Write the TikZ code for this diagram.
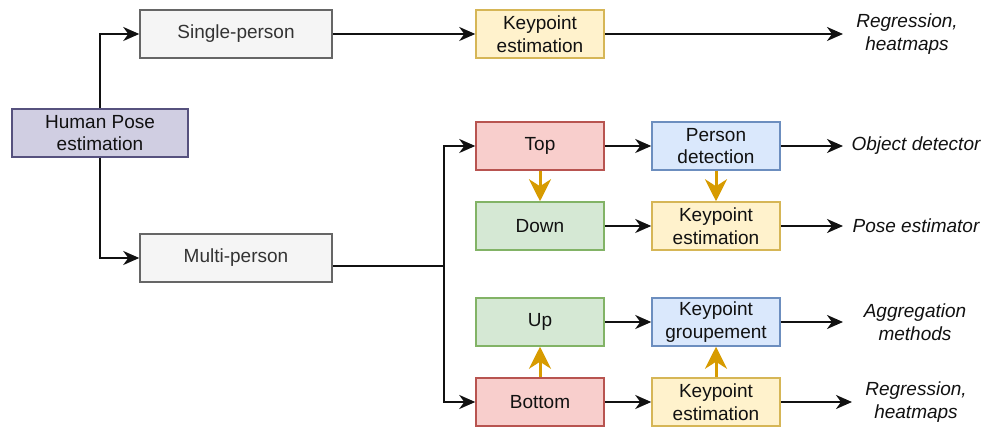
\documentclass[tikz,border=0pt]{standalone}
\usepackage{fontspec}
\setmainfont{Liberation Sans}
\usetikzlibrary{arrows.meta}

\definecolor{purpleFill}{HTML}{D0CEE2}
\definecolor{purpleLine}{HTML}{56517E}
\definecolor{grayFill}{HTML}{F5F5F5}
\definecolor{grayLine}{HTML}{666666}
\definecolor{grayText}{HTML}{333333}
\definecolor{yellowFill}{HTML}{FFF2CC}
\definecolor{yellowLine}{HTML}{D6B656}
\definecolor{redFill}{HTML}{F8CECC}
\definecolor{redLine}{HTML}{B85450}
\definecolor{blueFill}{HTML}{DAE8FC}
\definecolor{blueLine}{HTML}{6C8EBF}
\definecolor{greenFill}{HTML}{D5E8D4}
\definecolor{greenLine}{HTML}{82B366}
\definecolor{orangeArrow}{HTML}{D79B00}
\definecolor{ink}{HTML}{111111}

\tikzset{
  box/.style={draw, line width=1.5pt, minimum height=48pt, minimum width=128pt,
    inner sep=0pt, align=center, text=ink,
    font=\fontsize{19}{22.5}\selectfont},
  purplebox/.style={box, fill=purpleFill, draw=purpleLine, minimum width=176pt},
  graybox/.style={box, fill=grayFill, draw=grayLine, text=grayText, minimum width=192pt},
  yellowbox/.style={box, fill=yellowFill, draw=yellowLine},
  redbox/.style={box, fill=redFill, draw=redLine},
  bluebox/.style={box, fill=blueFill, draw=blueLine},
  greenbox/.style={box, fill=greenFill, draw=greenLine},
  result/.style={align=center, inner sep=0pt, text=ink,
    font=\fontsize{19}{22.5}\selectfont\itshape},
  arr/.style={draw=ink, line width=2pt,
    -{Stealth[length=16pt, width=14pt, inset=5pt]}},
  plain/.style={draw=ink, line width=2pt},
  orarr/.style={draw=orangeArrow, line width=3pt,
    -{Stealth[length=22pt, width=22pt, inset=7pt]}},
}

\begin{document}
\begin{tikzpicture}[x=1pt, y=-1pt]
  \useasboundingbox (0,0) rectangle (983,427);

  % boxes
  \node[purplebox] (hp) at (100,133) {Human Pose\\estimation};
  \node[graybox] (sp) at (236,34) {Single-person};
  \node[graybox] (mp) at (236,258) {Multi-person};
  \node[yellowbox] (ke1) at (540,34) {Keypoint\\estimation};

  \node[redbox] (top) at (540,146) {Top};
  \node[greenbox] (down) at (540,226) {Down};
  \node[greenbox] (up) at (540,322) {Up};
  \node[redbox] (bottom) at (540,402) {Bottom};

  \node[bluebox] (pd) at (716,146) {Person\\detection};
  \node[yellowbox] (ke2) at (716,226) {Keypoint\\estimation};
  \node[bluebox] (kg) at (716,322) {Keypoint\\groupement};
  \node[yellowbox] (ke3) at (716,402) {Keypoint\\estimation};

  % outcomes
  \node[result] (r1) at (907,34) {Regression,\\heatmaps};
  \node[result] (r2) at (916,146) {Object detector};
  \node[result] (r3) at (916,226) {Pose estimator};
  \node[result] (r4) at (915,322) {Aggregation\\methods};
  \node[result] (r5) at (916,402) {Regression,\\heatmaps};

  % branch point of the multi-person line and arrow ends before the outcomes
  \coordinate (j) at (444,266);
  \coordinate (e1) at (843,34);
  \coordinate (e2) at (843,146);
  \coordinate (e3) at (843,226);
  \coordinate (e4) at (843,322);
  \coordinate (e5) at (852,402);

  % connectors
  \draw[arr] (hp.north) |- (sp.west);
  \draw[arr] (hp.south) |- (mp.west);
  \draw[arr] (sp.east) -- (ke1.west);
  \draw[arr] (ke1.east) -- (e1);

  \draw[plain] ([yshift=-8pt]mp.east) -- (j);
  \draw[arr] (j) |- (top.west);
  \draw[arr] (j) |- (bottom.west);

  \draw[arr] (top) -- (pd);
  \draw[arr] (down) -- (ke2);
  \draw[arr] (up) -- (kg);
  \draw[arr] (bottom) -- (ke3);

  \draw[arr] (pd.east) -- (e2);
  \draw[arr] (ke2.east) -- (e3);
  \draw[arr] (kg.east) -- (e4);
  \draw[arr] (ke3.east) -- (e5);

  \draw[orarr] (top) -- (down);
  \draw[orarr] (pd) -- (ke2);
  \draw[orarr] (bottom) -- (up);
  \draw[orarr] (ke3) -- (kg);
\end{tikzpicture}
\end{document}
